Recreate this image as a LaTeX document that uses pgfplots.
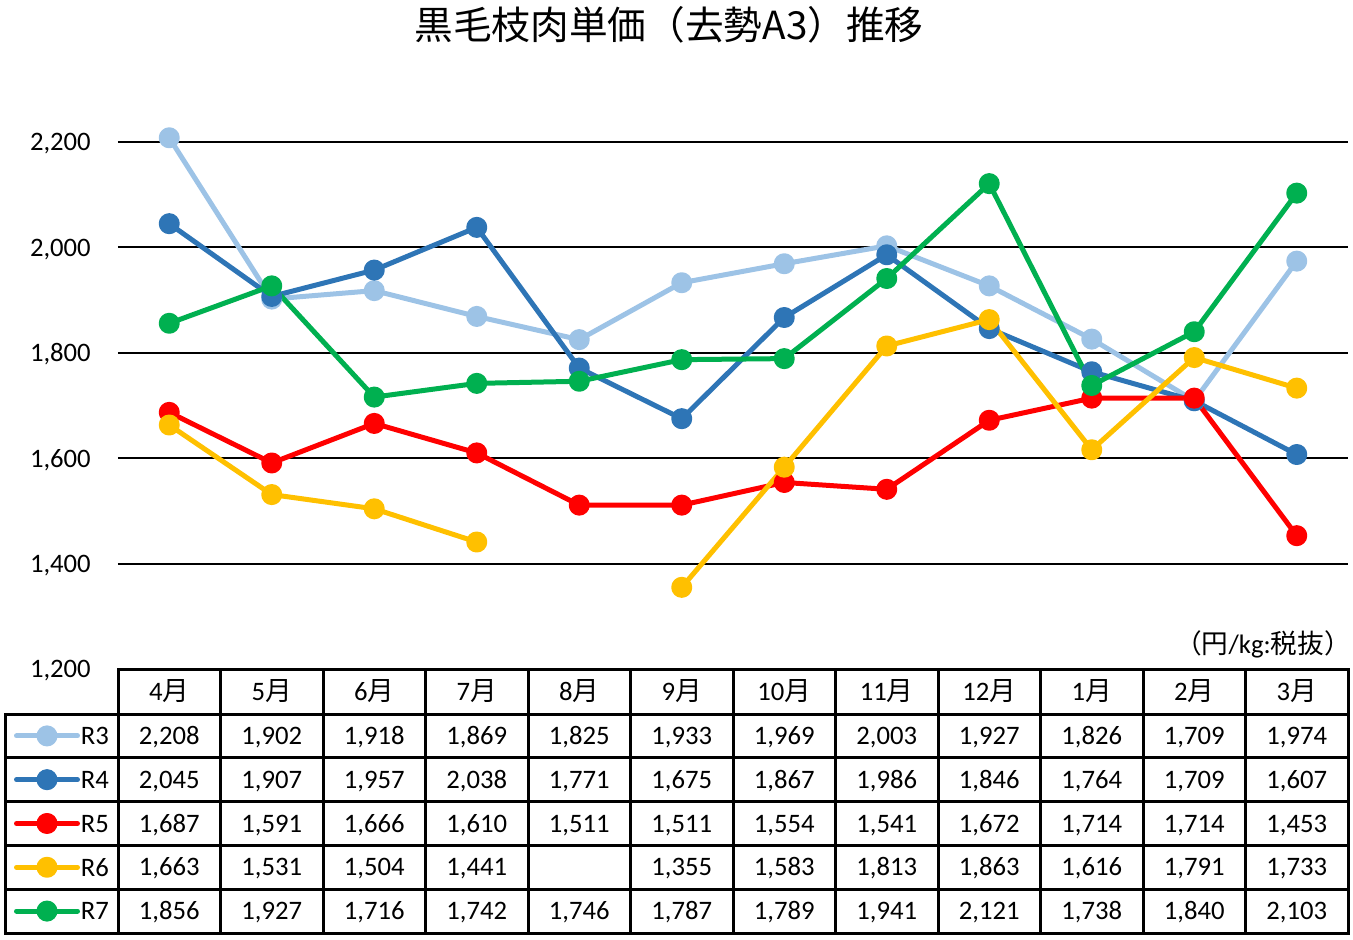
\documentclass[border=0pt]{standalone}
\usepackage{pgfplots}
\pgfplotsset{compat=1.18}
\usepackage{fontspec}
\setmainfont{Carlito}
\newfontfamily\cjk{Noto Sans CJK JP}
\definecolor{cR3}{RGB}{157,195,230}
\definecolor{cR4}{RGB}{46,117,182}
\definecolor{cR5}{RGB}{255,0,0}
\definecolor{cR6}{RGB}{255,192,0}
\definecolor{cR7}{RGB}{0,176,80}
\newcommand\numfont{\fontsize{20}{24}\selectfont}
\newcommand\trow[2]{\foreach \v [count=\i from 0] in {#2} {\node[anchor=base,inner sep=0pt] at ({169.25+102.5*\i},{#1}) {\v};}}
\begin{document}
\begin{tikzpicture}
\path[use as bounding box] (0,0) rectangle (1014.75pt,-704.25pt);
\begin{axis}[
  at={(88.5pt,-501.75pt)}, anchor=south west,
  scale only axis, width=922.5pt, height=395.25pt,
  xmin=-0.5, xmax=11.5, ymin=1200, ymax=2200,
  clip=false,
  axis line style={draw=none},
  xtick=\empty,
  ytick={1200,1400,1600,1800,2000,2200},
  major tick length=0pt,
  ymajorgrids, grid style={black, line width=1.5pt},
  /pgf/number format/assume math mode=true,
  /pgf/number format/1000 sep={,},
  yticklabel style={font=\numfont, inner sep=0pt, text depth=0pt, xshift=-20.25pt},
  unbounded coords=jump,
  every axis plot/.append style={line width=3.75pt, line join=round, mark=*, mark size=6pt},
  legend image code/.code={
    \draw[mark repeat=2,mark phase=2,line cap=round] plot coordinates {(0pt,0pt) (22.875pt,0pt) (45.75pt,0pt)};
    \path (0pt,-14.545pt) (45.75pt,14.545pt);
  },
  legend style={at={(axis description cs:-0.08455,-0.08539)}, anchor=north west,
    draw=none, fill=none, inner xsep=0pt, inner ysep=0pt, outer sep=0pt,
    row sep=0pt, column sep=0.6pt, font=\numfont,
    nodes={inner sep=0pt, text depth=0pt}, cells={anchor=west}},
]
\addplot[color=cR3, mark options={draw=none, fill=cR3}] coordinates {
 (0,2208) (1,1902) (2,1918) (3,1869) (4,1825) (5,1933) (6,1969) (7,2003) (8,1927) (9,1826) (10,1709) (11,1974)};
\addlegendentry{R3}
\addplot[color=cR4, mark options={draw=none, fill=cR4}] coordinates {
 (0,2045) (1,1907) (2,1957) (3,2038) (4,1771) (5,1675) (6,1867) (7,1986) (8,1846) (9,1764) (10,1709) (11,1607)};
\addlegendentry{R4}
\addplot[color=cR5, mark options={draw=none, fill=cR5}] coordinates {
 (0,1687) (1,1591) (2,1666) (3,1610) (4,1511) (5,1511) (6,1554) (7,1541) (8,1672) (9,1714) (10,1714) (11,1453)};
\addlegendentry{R5}
\addplot[color=cR6, mark options={draw=none, fill=cR6}] coordinates {
 (0,1663) (1,1531) (2,1504) (3,1441) (4,nan) (5,1355) (6,1583) (7,1813) (8,1863) (9,1616) (10,1791) (11,1733)};
\addlegendentry{R6}
\addplot[color=cR7, mark options={draw=none, fill=cR7}] coordinates {
 (0,1856) (1,1927) (2,1716) (3,1742) (4,1746) (5,1787) (6,1789) (7,1941) (8,2121) (9,1738) (10,1840) (11,2103)};
\addlegendentry{R7}
\end{axis}
\begin{scope}[x=0.75pt, y=-0.75pt]
  % title
  \node[inner sep=0pt] at (669,25) {\cjk\fontsize{29}{34}\selectfont 黒毛枝肉単価（去勢A3）推移};
  \node[inner sep=0pt, anchor=east] at (1351,644) {\fontsize{20}{24}\selectfont{\cjk （円}/kg:{\cjk 税抜）}};
  % table grid
  \begin{scope}[line width=2.25pt, line cap=rect]
    \draw (118,669) -- (1348,669);
    \foreach \y in {714,757.8,801.6,845.4,889.2,933} \draw (5,\y) -- (1348,\y);
    \foreach \k in {0,...,12} \draw ({118+102.5*\k},669) -- ({118+102.5*\k},933);
    \draw (5,714) -- (5,933);
  \end{scope}
  % header
  \numfont
  \foreach \m [count=\i from 0] in {4,5,6,7,8,9,10,11,12,1,2,3}
    \node[anchor=base, inner sep=0pt] at ({169.25+102.5*\i},700.5) {\m{\cjk 月}};
  \trow{744.4}{{2,208},{1,902},{1,918},{1,869},{1,825},{1,933},{1,969},{2,003},{1,927},{1,826},{1,709},{1,974}}
  \trow{788.2}{{2,045},{1,907},{1,957},{2,038},{1,771},{1,675},{1,867},{1,986},{1,846},{1,764},{1,709},{1,607}}
  \trow{832.0}{{1,687},{1,591},{1,666},{1,610},{1,511},{1,511},{1,554},{1,541},{1,672},{1,714},{1,714},{1,453}}
  \trow{875.8}{{1,663},{1,531},{1,504},{1,441},{},{1,355},{1,583},{1,813},{1,863},{1,616},{1,791},{1,733}}
  \trow{919.6}{{1,856},{1,927},{1,716},{1,742},{1,746},{1,787},{1,789},{1,941},{2,121},{1,738},{1,840},{2,103}}
\end{scope}
\end{tikzpicture}
\end{document}
